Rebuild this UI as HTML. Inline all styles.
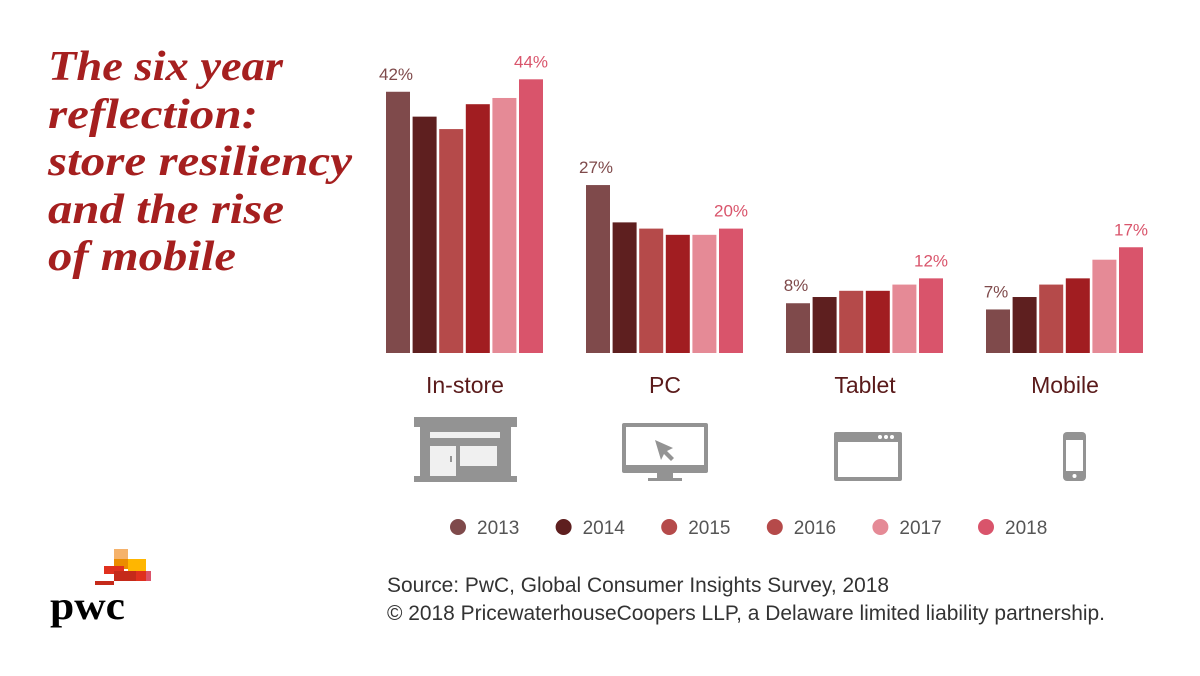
<!DOCTYPE html>
<html><head><meta charset="utf-8"><style>
body{margin:0;background:#fff;width:1200px;height:676px;overflow:hidden}
svg{display:block}
</style></head><body>
<svg width="1200" height="676" font-family="Liberation Sans, sans-serif">
<g font-family="Liberation Serif, serif" font-style="italic" font-weight="bold" font-size="42" fill="#a51f1f" lengthAdjust="spacingAndGlyphs">
<text x="48" y="80" textLength="235" lengthAdjust="spacingAndGlyphs">The six year</text>
<text x="48" y="128" textLength="210" lengthAdjust="spacingAndGlyphs">reflection:</text>
<text x="48" y="175" textLength="304" lengthAdjust="spacingAndGlyphs">store resiliency</text>
<text x="48" y="223" textLength="236" lengthAdjust="spacingAndGlyphs">and the rise</text>
<text x="48" y="270" textLength="188" lengthAdjust="spacingAndGlyphs">of mobile</text>
</g>
<g id="bars"></g>
<g id="cats"></g>
<g fill="#939393">
<g>
<rect x="414" y="417" width="103" height="10"/><rect x="420" y="427" width="91" height="50"/><rect x="414" y="476" width="103" height="6"/>
<rect x="430" y="432" width="70" height="6" fill="#f0f0f0"/><rect x="430" y="446" width="26" height="30" fill="#f0f0f0"/><rect x="460" y="446" width="37" height="20" fill="#f0f0f0"/><rect x="450" y="456" width="2" height="6"/>
</g>
<g>
<rect x="622" y="423" width="86" height="50" rx="2"/><rect x="626" y="427" width="78" height="38" fill="#fff"/><rect x="657" y="473" width="16" height="5"/><rect x="648" y="478" width="34" height="3"/>
<polygon points="655,440 673,448 667,451 674,458 671,461 664,454 661,460" />
</g>
<g>
<rect x="834" y="432" width="68" height="49" rx="2"/><rect x="838" y="442" width="60" height="35" fill="#fff"/>
<circle cx="880" cy="437" r="2" fill="#fff"/><circle cx="886" cy="437" r="2" fill="#fff"/><circle cx="892" cy="437" r="2" fill="#fff"/>
</g>
<g>
<rect x="1063" y="432" width="23" height="49" rx="4"/><rect x="1066" y="440" width="17" height="31" fill="#fff"/><circle cx="1074.5" cy="476" r="2" fill="#fff"/>
</g>
</g>
<g id="legend"></g>
<g font-size="21" fill="#333">
<text x="387" y="592" textLength="502" lengthAdjust="spacingAndGlyphs">Source: PwC, Global Consumer Insights Survey, 2018</text>
<text x="387" y="620" textLength="718" lengthAdjust="spacingAndGlyphs">© 2018 PricewaterhouseCoopers LLP, a Delaware limited liability partnership.</text>
</g>
<g>
<rect x="114" y="549" width="14" height="10" fill="#f5b26b"/><rect x="114" y="559" width="20" height="10" fill="#eb8c00"/><rect x="128" y="559" width="18" height="12" fill="#ffb600"/>
<rect x="104" y="566" width="20" height="8" fill="#e0301e"/><rect x="114" y="571" width="22" height="10" fill="#c52a1a"/><rect x="136" y="571" width="10" height="10" fill="#e0301e"/><rect x="146" y="571" width="5" height="10" fill="#db536a"/>
<rect x="95" y="581" width="19" height="4" fill="#c52a1a"/>
<text x="50" y="619" font-family="Liberation Serif, serif" font-weight="bold" font-size="40" fill="#000" textLength="75" lengthAdjust="spacingAndGlyphs">pwc</text>
</g>
</svg>
<script>
const categories=["In-store","PC","Tablet","Mobile"];
const years=["2013","2014","2015","2016","2017","2018"];
const v2013=[42,27,8,7];
const v2014=[38,21,9,9];
const v2015=[36,20,10,11];
const v2016=[40,19,10,12];
const v2017=[41,19,11,15];
const v2018=[44,20,12,17];
const series=[v2013,v2014,v2015,v2016,v2017,v2018];
const colors=["#7f4a4b","#5e1f1f","#b54a4a","#a11d21","#e58a96","#d9546b"];
const legendColors=["#7f4a4b","#5e1f1f","#b54a4a","#b54a4a","#e58a96","#d9546b"];
const NS="http://www.w3.org/2000/svg";
const base=353, pxPer=6.22;
const y=v=>base-v*pxPer;
const gx=i=>386+i*200;
function mk(tag,attrs,parent,txt){const e=document.createElementNS(NS,tag);for(const k in attrs)e.setAttribute(k,attrs[k]);if(txt!==undefined)e.textContent=txt;parent.appendChild(e);return e;}
const bars=document.getElementById('bars'),cats=document.getElementById('cats'),leg=document.getElementById('legend');
categories.forEach((c,i)=>{
  series.forEach((s,j)=>{
    const r=mk('rect',{x:gx(i)+j*26.6,y:y(s[i]),width:24,height:s[i]*pxPer,fill:colors[j]},bars);
    
    
  });
  const l1=mk('text',{x:gx(i)+10,y:y(v2013[i])-12,'text-anchor':'middle','font-size':17,fill:'#7f4a4b'},bars,v2013[i]+'%');
  
  
  const l2=mk('text',{x:gx(i)+5*26.6+12,y:y(v2018[i])-12,'text-anchor':'middle','font-size':17,fill:'#d9546b'},bars,v2018[i]+'%');
  
  
  const t=mk('text',{x:gx(i)+79,y:393,'text-anchor':'middle','font-size':23,fill:'#5a1a1a'},cats,c);
  
  
});
years.forEach((yr,j)=>{
  const cx=458+j*105.6;
  const d=mk('circle',{cx:cx,cy:527,r:8,fill:legendColors[j]},leg);
  
  
  const t=mk('text',{x:cx+19,y:534,'font-size':19,fill:'#555'},leg,yr);
  
  
});
</script>
</body></html>
